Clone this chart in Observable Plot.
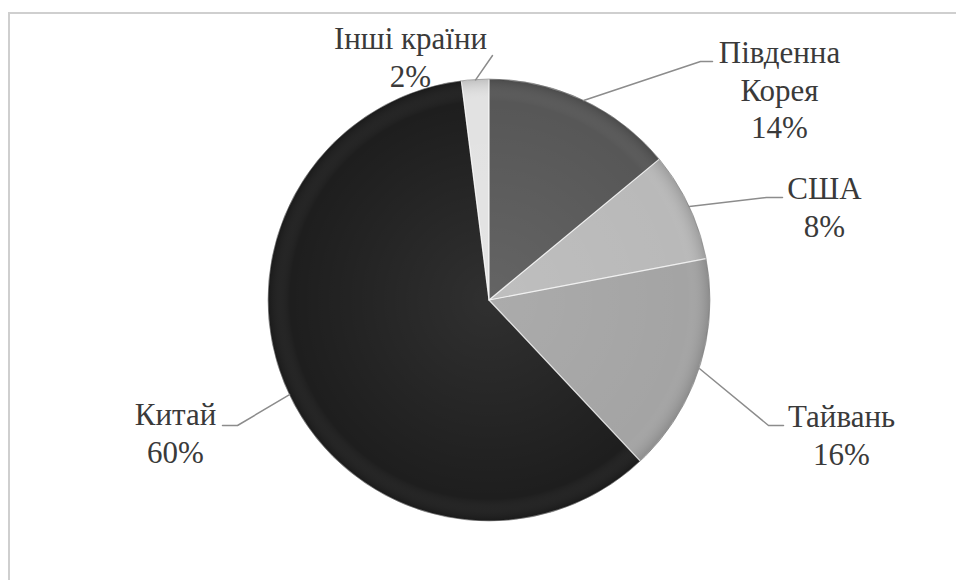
<!DOCTYPE html>
<html>
<head>
<meta charset="utf-8">
<script src="https://cdn.jsdelivr.net/npm/d3@7"></script>
<script src="https://cdn.jsdelivr.net/npm/@observablehq/plot@0.6"></script>
<style>
  body { margin: 0; background: #ffffff; overflow: hidden; }
  #chart { position: absolute; left: 0; top: 0; }
  #chart svg text { font-family: "Liberation Serif", "Times New Roman", serif !important; }
  #frame { position: absolute; left: 8px; top: 12px; width: 1000px; height: 700px;
           border-top: 2px solid #cfcfcf; border-left: 2px solid #cfcfcf; pointer-events: none; }
</style>
</head>
<body>
<div id="chart"></div>
<div id="frame"></div>
<script>
// ---- data ----
const countries = ["Південна Корея", "США", "Тайвань", "Китай", "Інші країни"];
const labelLines = ["Південна\nКорея", "США", "Тайвань", "Китай", "Інші країни"];
const shares = [14, 8, 16, 60, 2];
const colors = ["#575757", "#b9b9b9", "#a4a4a4", "#1e1e1e", "#e2e2e2"];

// ---- layout (pixels) ----
const W = 956, H = 580;
const pieCenter = {x: 489, y: 300};
const pieRadius = 221;
const labelAnchor = [[779, 36], [824, 172], [841, 400], [175, 398], [410, 22]];
const leaderElbows = [
  [[700, 61], [712, 61]],
  [[766, 197], [782, 197]],
  [[768, 425], [783, 425]],
  [[237, 425], [222, 425]],
  [[492, 55]]
];

const arcs = d3.pie().sort(null).value(d => d)(shares);

const labels = countries.map((c, i) => ({
  name: c,
  x: labelAnchor[i][0],
  y: labelAnchor[i][1],
  text: labelLines[i] + "\n" + shares[i] + "%"
}));

const leaders = [];
arcs.forEach((a, i) => {
  const m = (a.startAngle + a.endAngle) / 2;
  leaders.push({i, x: pieCenter.x + pieRadius * Math.sin(m), y: pieCenter.y - pieRadius * Math.cos(m)});
  leaderElbows[i].forEach(p => leaders.push({i, x: p[0], y: p[1]}));
});

function pieMark(index, scales) {
  const cx = scales.x(pieCenter.x), cy = scales.y(pieCenter.y);
  const r = scales.x(pieCenter.x + pieRadius) - cx;
  const arc = d3.arc().innerRadius(0).outerRadius(r);
  const g = d3.create("svg:g").attr("transform", `translate(${cx},${cy})`);
  const defs = g.append("defs");
  const rg = defs.append("radialGradient").attr("id", "pieShade")
    .attr("gradientUnits", "userSpaceOnUse").attr("cx", 0).attr("cy", 0).attr("r", r);
  rg.append("stop").attr("offset", "0%").attr("stop-color", "#ffffff").attr("stop-opacity", 0.08);
  rg.append("stop").attr("offset", "90%").attr("stop-color", "#ffffff").attr("stop-opacity", 0);
  rg.append("stop").attr("offset", "100%").attr("stop-color", "#000000").attr("stop-opacity", 0.15);
  g.selectAll("path.slice").data(arcs).join("path")
    .attr("class", "slice")
    .attr("d", arc)
    .attr("fill", (d, i) => colors[i]);
  g.selectAll("path.shade").data(arcs).join("path")
    .attr("class", "shade")
    .attr("d", arc)
    .attr("fill", "url(#pieShade)")
    .attr("stroke", "rgba(255,255,255,0.5)")
    .attr("stroke-width", 1.2)
    .attr("stroke-linejoin", "round");
  g.append("circle").attr("r", r).attr("fill", "none")
    .attr("stroke", "rgba(0,0,0,0.3)").attr("stroke-width", 1);
  return g.node();
}

const chart = Plot.plot({
  width: W,
  height: H,
  margin: 0,
  style: {fontFamily: "Liberation Serif, serif"},
  x: {domain: [0, W], range: [0, W], axis: null},
  y: {domain: [0, H], range: [0, H], axis: null},
  marks: [
    pieMark,
    Plot.line(leaders, {x: "x", y: "y", z: "i", stroke: "#8c8c8c", strokeWidth: 1.5}),
    Plot.text(labels, {
      x: "x", y: "y", text: "text",
      fontSize: 31, fontFamily: "Liberation Serif",
      fill: "#3a3a3a", textAnchor: "middle", lineAnchor: "top", lineHeight: 1.21
    })
  ]
});
document.getElementById("chart").appendChild(chart);
</script>
</body>
</html>
